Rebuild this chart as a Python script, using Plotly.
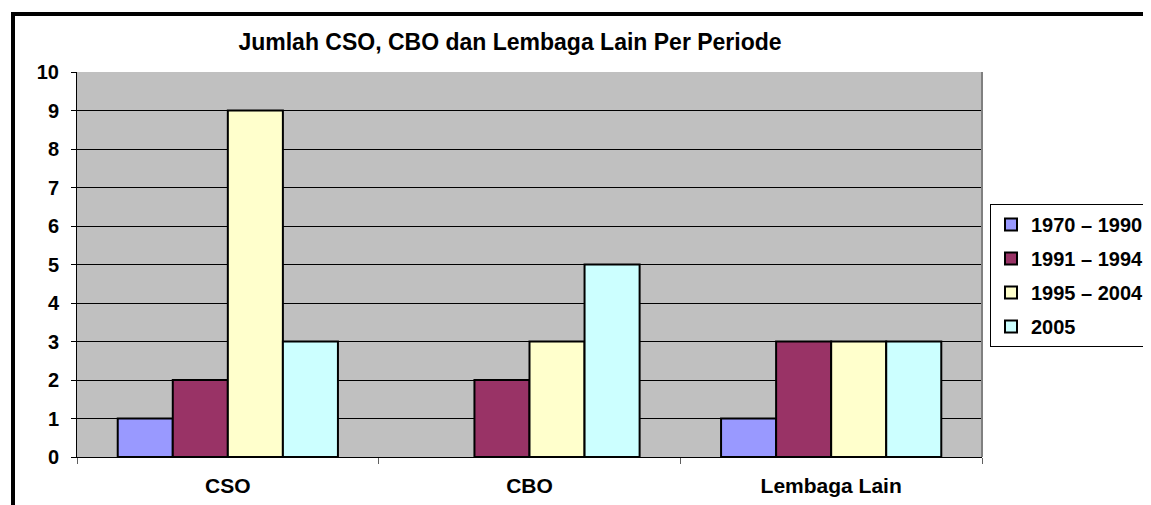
import plotly.graph_objects as go

categories = ["CSO", "CBO", "Lembaga Lain"]
series_names = ["1970 – 1990", "1991 – 1994", "1995 – 2004", "2005"]
series_values = [
    [1, 0, 1],
    [2, 2, 3],
    [9, 3, 3],
    [3, 5, 3],
]
series_colors = ["#9999FF", "#993366", "#FFFFCC", "#CCFFFF"]

OFF = 8  # page body margin in the browser
W, H = 1151 - OFF, 505 - OFF
L, T, R, B = 77 - OFF, 72 - OFF, 982 - OFF, 457 - OFF
pw, ph = R - L, B - T


def px2x(px):
    return (px - OFF - L) / pw


def py2y(py):
    return (B - (py - OFF)) / ph


font_fam = "Liberation Sans, Arial, sans-serif"

fig = go.Figure()
for i, (name, vals, col) in enumerate(zip(series_names, series_values, series_colors)):
    fig.add_trace(go.Bar(
        x=categories, y=vals, name=f"<b>{name}</b>",
        marker=dict(color=col,
                    line=dict(color="black", width=[2 if v > 0 else 0 for v in vals])),
        legendgroup=f"g{i}",
    ))

fig.update_layout(
    width=W, height=H,
    margin=dict(l=L, r=W - R, t=T, b=H - B, pad=0, autoexpand=False),
    paper_bgcolor="white",
    plot_bgcolor="#C0C0C0",
    barmode="group",
    bargap=0.27,
    bargroupgap=0,
    font=dict(family=font_fam, size=20, color="black"),
    title=dict(
        text="<b>Jumlah CSO, CBO dan Lembaga Lain Per Periode</b>",
        x=px2x(510), xref="paper", xanchor="center",
        y=1 - (42 - OFF) / H, yanchor="middle",
        font=dict(size=23, family=font_fam),
    ),
    xaxis=dict(
        tickvals=categories,
        ticktext=[f"<b>{c}</b>" for c in categories],
        tickfont=dict(size=21, family=font_fam),
        ticks="outside", ticklen=6, tickcolor="#606060",
        tickson="boundaries",
        showline=True, linecolor="black", linewidth=1,
        showgrid=False,
        ticklabelstandoff=10,
    ),
    yaxis=dict(
        range=[0, 10], dtick=1,
        tickfont=dict(size=20, family=font_fam),
        ticks="outside", ticklen=5, tickcolor="black",
        showline=True, linecolor="black", linewidth=1,
        showgrid=True, gridcolor="black", gridwidth=1,
        zeroline=False,
        tickprefix="<b>", ticksuffix="</b>",
        ticklabelstandoff=8,
    ),
    legend=dict(
        x=px2x(990), xanchor="left",
        y=py2y(204), yanchor="top",
        bordercolor="black", borderwidth=1,
        bgcolor="white",
        font=dict(size=20, family=font_fam),
        traceorder="grouped",
        tracegroupgap=5,
        itemwidth=30,
    ),
    showlegend=True,
)

# right edge of plot area (gray)
fig.add_shape(type="line", xref="paper", yref="paper",
              x0=1, x1=1, y0=0, y1=1, line=dict(color="#808080", width=2))

# outer chart border
fig.add_shape(type="rect", xref="paper", yref="paper",
              x0=px2x(13), y0=py2y(14), x1=px2x(1250), y1=py2y(600),
              line=dict(color="black", width=4), fillcolor="rgba(0,0,0,0)",
              layer="above")

fig.write_html("out.html")
